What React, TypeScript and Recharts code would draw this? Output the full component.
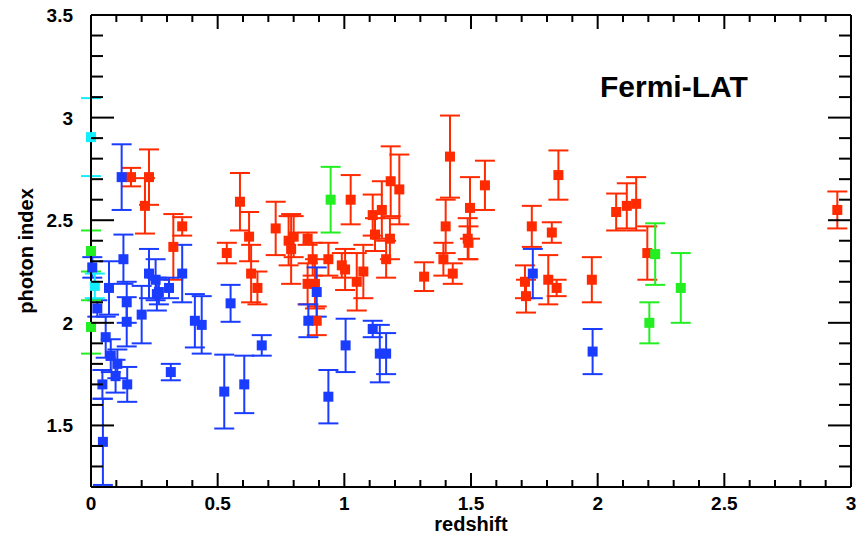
import { ScatterChart, Scatter, XAxis, YAxis, ErrorBar, Label } from "recharts";

// [redshift, photon index, error]
type Pt = [number, number, number];

const fsrq: Pt[] = [
  [0.158, 2.71, 0.045], [0.229, 2.71, 0.135], [0.213, 2.57, 0.135], [0.36, 2.47, 0.045],
  [0.325, 2.37, 0.16], [0.536, 2.34, 0.05], [0.588, 2.59, 0.14], [0.624, 2.42, 0.12],
  [0.632, 2.24, 0.14], [0.657, 2.17, 0.08], [0.729, 2.46, 0.13], [0.78, 2.4, 0.12],
  [0.79, 2.36, 0.17], [0.8, 2.42, 0.1], [0.855, 2.41, 0.03], [0.875, 2.31, 0.08],
  [0.855, 2.19, 0.1], [0.884, 2.19, 0.12], [0.891, 2.01, 0.07], [0.937, 2.31, 0.08],
  [0.99, 2.28, 0.06], [1.003, 2.26, 0.1], [1.025, 2.6, 0.12], [1.049, 2.2, 0.14],
  [1.075, 2.25, 0.13], [1.112, 2.525, 0.1], [1.121, 2.43, 0.08], [1.148, 2.55, 0.14],
  [1.165, 2.31, 0.09], [1.18, 2.41, 0.1], [1.183, 2.69, 0.17], [1.217, 2.65, 0.17],
  [1.315, 2.225, 0.07], [1.391, 2.31, 0.08], [1.4, 2.47, 0.13], [1.417, 2.81, 0.2],
  [1.428, 2.24, 0.05], [1.487, 2.41, 0.1], [1.49, 2.39, 0.08], [1.496, 2.56, 0.15],
  [1.555, 2.67, 0.12], [1.713, 2.2, 0.08], [1.717, 2.13, 0.08], [1.74, 2.47, 0.1],
  [1.805, 2.21, 0.12], [1.819, 2.44, 0.05], [1.838, 2.17, 0.04], [1.845, 2.72, 0.12],
  [1.977, 2.21, 0.11], [2.073, 2.54, 0.09], [2.115, 2.57, 0.11], [2.152, 2.58, 0.13],
  [2.196, 2.34, 0.13], [2.946, 2.55, 0.09],
];

const bllac: Pt[] = [
  [0.005, 2.27, 0.05], [0.025, 2.07, 0.04], [0.045, 1.7, 0.07], [0.047, 1.42, 0.21],
  [0.058, 1.93, 0.1], [0.071, 2.17, 0.13], [0.078, 1.84, 0.08], [0.097, 1.74, 0.08],
  [0.104, 1.8, 0.07], [0.121, 2.71, 0.16], [0.128, 2.31, 0.12], [0.141, 2.1, 0.1],
  [0.141, 2.005, 0.12], [0.143, 1.7, 0.085], [0.2, 2.04, 0.14], [0.229, 2.24, 0.12],
  [0.255, 2.21, 0.1], [0.26, 2.14, 0.08], [0.268, 2.15, 0.06], [0.308, 2.17, 0.05],
  [0.315, 1.76, 0.04], [0.36, 2.24, 0.14], [0.41, 2.01, 0.13], [0.437, 1.99, 0.14],
  [0.526, 1.665, 0.18], [0.551, 2.095, 0.09], [0.605, 1.7, 0.14], [0.674, 1.89, 0.05],
  [0.858, 2.01, 0.08], [0.891, 2.15, 0.12], [0.937, 1.64, 0.13], [1.005, 1.89, 0.13],
  [1.112, 1.97, 0.04], [1.14, 1.85, 0.14], [1.165, 1.85, 0.1], [1.744, 2.24, 0.12],
  [1.98, 1.86, 0.11],
];

const unknown: Pt[] = [
  [0.0, 2.35, 0.1], [0.0, 1.98, 0.13], [0.946, 2.6, 0.16],
  [2.204, 2.0, 0.1], [2.227, 2.335, 0.15], [2.328, 2.17, 0.17],
];

const other: Pt[] = [
  [0.0, 2.905, 0.19], [0.015, 2.18, 0.06],
];

const xMajor = [0, 0.5, 1, 1.5, 2, 2.5, 3];
const yMajor = [1.5, 2, 2.5, 3, 3.5];
const xTicks = Array.from({ length: 31 }, (_, i) => i / 10);
const yTicks = Array.from({ length: 24 }, (_, i) => (12 + i) / 10);

const rows = (pts: Pt[]) => pts.map(([x, y, err]) => ({ x, y, err }));
const isMajor = (v: number, majors: number[]) => majors.some((m) => Math.abs(m - v) < 1e-6);

const font = { fontFamily: "Liberation Sans, Arial, Helvetica, sans-serif", fontWeight: "bold" as const };

const bottomTick = ({ x, y, payload }: any) => {
  const major = isMajor(payload.value, xMajor);
  return (
    <g>
      <path d={`M${x},${y}V${y - (major ? 14 : 7)}`} stroke="#000" strokeWidth={2} />
      {major && (
        <text x={x} y={y + 23} textAnchor="middle" fontSize={19} fill="#000" style={font}>
          {String(payload.value)}
        </text>
      )}
    </g>
  );
};

const topTick = ({ x, y, payload }: any) => {
  const major = isMajor(payload.value, xMajor);
  return <path d={`M${x},${y}V${y + (major ? 14 : 7)}`} stroke="#000" strokeWidth={2} />;
};

const leftTick = ({ x, y, payload }: any) => {
  const major = isMajor(payload.value, yMajor);
  return (
    <g>
      <path d={`M${x},${y}H${x + (major ? 23 : 12)}`} stroke="#000" strokeWidth={2} />
      {major && (
        <text x={x - 18} y={y + 7} textAnchor="end" fontSize={19} fill="#000" style={font}>
          {String(payload.value)}
        </text>
      )}
    </g>
  );
};

const rightTick = ({ x, y, payload }: any) => {
  const major = isMajor(payload.value, yMajor);
  return <path d={`M${x},${y}H${x - (major ? 23 : 12)}`} stroke="#000" strokeWidth={2} />;
};

const Square = (p: any) => <rect x={p.cx - 5} y={p.cy - 5} width={10} height={10} fill={p.fill} />;

// FSRQ is tied to the top/right frame axes so those axes get a scale (same domain as bottom/left)
const series = [
  { name: "FSRQ", pts: fsrq, color: "#ff2a00", xId: "top", yId: "right" },
  { name: "BL Lac", pts: bllac, color: "#1a3cff", xId: 0, yId: 0 },
  { name: "unknown", pts: unknown, color: "#22ee22", xId: 0, yId: 0 },
  { name: "other", pts: other, color: "#11eeff", xId: 0, yId: 0 },
];

export default function App() {
  return (
    <div style={{ position: "absolute", left: 0, top: 0, background: "#fff" }}>
      <ScatterChart width={865} height={540} margin={{ top: 14, right: 13, bottom: 0, left: 0 }}>
        <XAxis
          type="number"
          dataKey="x"
          domain={[0, 3]}
          ticks={xTicks}
          interval={0}
          height={53}
          tickSize={0}
          tickMargin={0}
          tickLine={false}
          tick={bottomTick}
          axisLine={{ stroke: "#000", strokeWidth: 2 }}
        >
          <Label
            content={({ viewBox }: any) => (
              <text x={viewBox.x + viewBox.width / 2} y={viewBox.y + 44} textAnchor="middle" fontSize={20} fill="#000" style={font}>
                redshift
              </text>
            )}
          />
        </XAxis>
        <XAxis
          xAxisId="top"
          orientation="top"
          type="number"
          dataKey="x"
          domain={[0, 3]}
          ticks={xTicks}
          interval={0}
          height={1}
          tickSize={0}
          tickMargin={0}
          tickLine={false}
          tick={topTick}
          axisLine={{ stroke: "#000", strokeWidth: 2 }}
        >
          <Label
            content={({ viewBox }: any) => (
              <text x={viewBox.x + 509} y={viewBox.y + 83} fontSize={30} fill="#000" style={font}>
                Fermi-LAT
              </text>
            )}
          />
        </XAxis>
        <YAxis
          type="number"
          dataKey="y"
          domain={[1.2, 3.5]}
          ticks={yTicks}
          interval={0}
          width={91}
          tickSize={0}
          tickMargin={0}
          tickLine={false}
          tick={leftTick}
          axisLine={{ stroke: "#000", strokeWidth: 2 }}
        >
          <Label
            content={({ viewBox }: any) => {
              const cx = 33;
              const cy = viewBox.y + viewBox.height / 2;
              return (
                <text x={cx} y={cy} transform={`rotate(-90 ${cx} ${cy})`} textAnchor="middle" fontSize={20} fill="#000" style={font}>
                  photon index
                </text>
              );
            }}
          />
        </YAxis>
        <YAxis
          yAxisId="right"
          orientation="right"
          type="number"
          dataKey="y"
          domain={[1.2, 3.5]}
          ticks={yTicks}
          interval={0}
          width={1}
          tickSize={0}
          tickMargin={0}
          tickLine={false}
          tick={rightTick}
          axisLine={{ stroke: "#000", strokeWidth: 2 }}
        />
        {series.map((s) => (
          <Scatter
            key={s.name}
            name={s.name}
            xAxisId={s.xId}
            yAxisId={s.yId}
            data={rows(s.pts)}
            fill={s.color}
            shape={Square}
            isAnimationActive={false}
          >
            <ErrorBar dataKey="err" direction="y" width={10} stroke={s.color} strokeWidth={2} />
          </Scatter>
        ))}
      </ScatterChart>
    </div>
  );
}
